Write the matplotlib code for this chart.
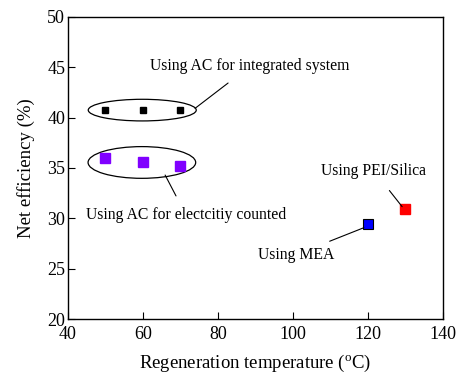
import matplotlib
matplotlib.use("Agg")
import matplotlib.pyplot as plt
from matplotlib.patches import Ellipse

plt.rcParams['font.family'] = ['Liberation Serif', 'DejaVu Serif']
plt.rcParams['mathtext.fontset'] = 'custom'
plt.rcParams['mathtext.rm'] = 'Liberation Serif'
plt.rcParams['mathtext.it'] = 'Liberation Serif:italic'

# Data
ac_int_x = [50, 60, 70]
ac_int_y = [40.8, 40.8, 40.8]
ac_elec_x = [50, 60, 70]
ac_elec_y = [36.0, 35.6, 35.2]
mea_x = [120]
mea_y = [29.4]
pei_x = [130]
pei_y = [30.9]

fig = plt.figure(figsize=(4.67, 3.75), dpi=100)
ax = fig.add_axes([0.1456, 0.1493, 0.803, 0.8054])

ax.plot(ac_int_x, ac_int_y, 's', color='black', markersize=5, linestyle='none')
ax.plot(ac_elec_x, ac_elec_y, 's', color='#8000FF', markersize=6.5, linestyle='none')
ax.plot(mea_x, mea_y, 's', color='#0000FF', markeredgecolor='black', markeredgewidth=0.8,
        markersize=6.5, linestyle='none')
ax.plot(pei_x, pei_y, 's', color='#FF0000', markersize=6.5, linestyle='none')

ax.add_patch(Ellipse((59.8, 40.75), 28.8, 2.15, fill=False, edgecolor='black', linewidth=0.9))
ax.add_patch(Ellipse((59.7, 35.55), 28.7, 3.15, fill=False, edgecolor='black', linewidth=0.9))

fs = 11.3
ax.annotate('Using AC for integrated system', xy=(73.9, 40.93), xytext=(88.5, 45.1),
            ha='center', va='center', fontsize=fs,
            arrowprops=dict(arrowstyle='-', color='black', lw=0.8, shrinkA=7, shrinkB=0))
ax.annotate('Using AC for electcitiy counted', xy=(65.9, 34.3), xytext=(71.5, 30.3),
            ha='center', va='center', fontsize=fs,
            arrowprops=dict(arrowstyle='-', color='black', lw=0.8, shrinkA=7, shrinkB=0))
ax.annotate('Using MEA', xy=(118.9, 29.07), xytext=(100.8, 26.4),
            ha='center', va='center', fontsize=fs,
            arrowprops=dict(arrowstyle='-', color='black', lw=0.8, shrinkA=5, shrinkB=0))
ax.annotate('Using PEI/Silica', xy=(129.1, 31.16), xytext=(121.6, 34.7),
            ha='center', va='center', fontsize=fs,
            arrowprops=dict(arrowstyle='-', color='black', lw=0.8, shrinkA=8, shrinkB=0))

ax.set_xlim(40, 140)
ax.set_ylim(20, 50)
ax.set_xticks([40, 60, 80, 100, 120, 140])
ax.set_yticks([20, 25, 30, 35, 40, 45, 50])
ax.tick_params(direction='in', length=5, width=0.8, labelsize=13, top=False, right=False)
ax.tick_params(axis='x', pad=5)
ax.tick_params(axis='y', pad=2)
for s in ax.spines.values():
    s.set_linewidth(1.0)

ax.set_xlabel(r'Regeneration temperature ($^{\mathrm{o}}$C)', fontsize=13.5, labelpad=7)
ax.set_ylabel('Net efficiency (%)', fontsize=13.5, labelpad=9)

fig.savefig('out.png', dpi=100)
